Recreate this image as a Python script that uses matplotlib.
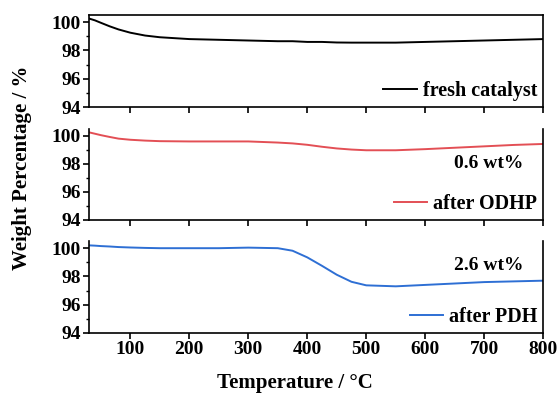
import matplotlib
matplotlib.use("Agg")
import matplotlib.pyplot as plt
from matplotlib.ticker import MultipleLocator

plt.rcParams['font.family'] = 'Liberation Serif'
plt.rcParams['font.weight'] = 'bold'

# temperatures (°C)
temperature = [30, 40, 50, 65, 80, 100, 125, 150, 200, 250, 300, 350, 375, 400,
               425, 450, 475, 500, 550, 600, 650, 700, 750, 800]

fresh = [100.25, 100.12, 99.95, 99.7, 99.48, 99.25, 99.05, 98.93, 98.8, 98.75, 98.7, 98.65,
         98.65, 98.6, 98.6, 98.56, 98.55, 98.55, 98.55, 98.6, 98.65, 98.7, 98.75, 98.8]
after_odhp = [100.25, 100.15, 100.05, 99.92, 99.8, 99.72, 99.66, 99.62, 99.6, 99.6, 99.6,
              99.52, 99.46, 99.36, 99.22, 99.1, 99.02, 98.97, 98.97, 99.05, 99.15, 99.25,
              99.35, 99.42]
after_pdh = [100.2, 100.18, 100.15, 100.12, 100.08, 100.05, 100.02, 100.0, 100.0, 100.0,
             100.04, 100.0, 99.82, 99.35, 98.75, 98.12, 97.62, 97.37, 97.3, 97.4, 97.5,
             97.6, 97.65, 97.7]

series = [fresh, after_odhp, after_pdh]
labels = ['fresh catalyst', 'after ODHP', 'after PDH']
colors = ['black', '#e34f55', '#2e6fd4']
notes = [None, '0.6 wt%', '2.6 wt%']
note_y = [None, 98.05, 98.75]

fig = plt.figure(figsize=(5.6, 3.94), dpi=100)
rects = [
    [0.159, 0.728, 0.811, 0.234],
    [0.159, 0.442, 0.811, 0.231],
    [0.159, 0.155, 0.811, 0.233],
]

for i, (rect, y) in enumerate(zip(rects, series)):
    ax = fig.add_axes(rect)
    ax.plot(temperature, y, color=colors[i], lw=1.4, label=labels[i])
    ax.set_xlim(30, 800)
    ax.set_ylim(94, 100.5)
    ax.xaxis.set_major_locator(MultipleLocator(100))
    ax.yaxis.set_major_locator(MultipleLocator(2))
    ax.yaxis.set_minor_locator(MultipleLocator(1))
    ax.tick_params(direction='out', length=4, width=1.2, labelsize=14, pad=2)
    ax.tick_params(which='minor', direction='out', length=2.5, width=1.0)
    for s in ax.spines.values():
        s.set_linewidth(1.2)
    if i > 0:
        ax.spines['top'].set_visible(False)
    if i < 2:
        ax.tick_params(labelbottom=False)
    if notes[i]:
        ax.text(707, note_y[i], notes[i], ha='center', va='center',
                fontsize=14, fontweight='bold')
    leg = ax.legend(loc='lower right', frameon=False, fontsize=14.5,
                    handlelength=1.65, handletextpad=0.3, borderaxespad=0.1,
                    borderpad=0.2)
    for t in leg.get_texts():
        t.set_fontweight('bold')
    if i == 2:
        ax.set_xlabel('Temperature / °C', fontsize=15, fontweight='bold')
        ax.xaxis.set_label_coords(0.454, -0.44)

fig.text(0.039, 0.573, 'Weight Percentage / %', rotation=90, ha='center', va='center',
         fontsize=15, fontweight='bold')

plt.savefig('out.png', dpi=100)
